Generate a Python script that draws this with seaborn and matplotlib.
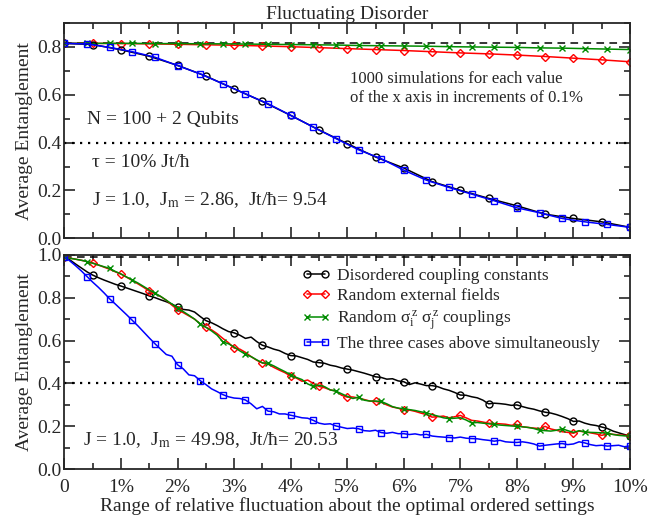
import matplotlib
matplotlib.use('Agg')
import seaborn as sns
import matplotlib.pyplot as plt
from matplotlib.lines import Line2D
from matplotlib.ticker import MultipleLocator
import numpy as np

# --- top panel data (values at marker positions) ---
top_x_half = [0, 0.5, 1, 1.5, 2, 2.5, 3, 3.5, 4, 4.5, 5, 5.5, 6, 6.5, 7, 7.5, 8, 8.5, 9, 9.5, 10]
top_x_four = [0, 0.4, 0.8, 1.2, 1.6, 2.0, 2.4, 2.8, 3.2, 3.6, 4.0, 4.4, 4.8, 5.2, 5.6, 6.0,
              6.4, 6.8, 7.2, 7.6, 8.0, 8.4, 8.8, 9.2, 9.6, 10]
top_black = [0.815, 0.810, 0.788, 0.761, 0.723, 0.678, 0.625, 0.572, 0.514, 0.453, 0.396,
             0.340, 0.294, 0.237, 0.201, 0.167, 0.136, 0.101, 0.083, 0.069, 0.046]
top_red = [0.815, 0.815, 0.814, 0.813, 0.811, 0.809, 0.807, 0.804, 0.801, 0.797, 0.793,
           0.789, 0.785, 0.780, 0.775, 0.771, 0.766, 0.760, 0.753, 0.746, 0.738]
top_green = [0.815, 0.815, 0.815, 0.815, 0.814, 0.814, 0.813, 0.813, 0.812, 0.811, 0.810,
             0.809, 0.808, 0.806, 0.805, 0.804, 0.803, 0.801, 0.800, 0.799, 0.798, 0.796,
             0.795, 0.793, 0.791, 0.789]
top_blue = [0.815, 0.8125, 0.798, 0.780, 0.757, 0.722, 0.6875, 0.646, 0.604, 0.5625, 0.514,
            0.465, 0.417, 0.370, 0.333, 0.285, 0.243, 0.2125, 0.185, 0.157, 0.1275, 0.107,
            0.083, 0.069, 0.058, 0.046]

# --- bottom panel data (every 0.1 %) ---
bot_x = np.linspace(0, 10, 101)
bot_black = [0.99, 0.975, 0.956, 0.938, 0.92, 0.905, 0.893, 0.882, 0.872, 0.862,
             0.854, 0.845, 0.836, 0.827, 0.818, 0.808, 0.800, 0.790, 0.781, 0.770,
             0.756, 0.745, 0.742, 0.733, 0.712, 0.693, 0.683, 0.670, 0.655, 0.642,
             0.636, 0.625, 0.610, 0.616, 0.595, 0.578, 0.570, 0.560, 0.553, 0.540,
             0.530, 0.528, 0.520, 0.512, 0.500, 0.497, 0.494, 0.485, 0.480, 0.472,
             0.467, 0.462, 0.455, 0.448, 0.440, 0.431, 0.428, 0.420, 0.422, 0.412,
             0.408, 0.395, 0.403, 0.397, 0.390, 0.390, 0.385, 0.375, 0.368, 0.358,
             0.346, 0.345, 0.338, 0.333, 0.322, 0.305, 0.308, 0.306, 0.303, 0.298,
             0.300, 0.292, 0.285, 0.280, 0.272, 0.266, 0.262, 0.255, 0.246, 0.236,
             0.223, 0.225, 0.215, 0.208, 0.204, 0.197, 0.190, 0.178, 0.170, 0.162,
             0.155]
bot_red = [0.99, 0.984, 0.979, 0.974, 0.968, 0.962, 0.952, 0.942, 0.932, 0.920,
           0.910, 0.895, 0.880, 0.864, 0.848, 0.830, 0.818, 0.805, 0.788, 0.765,
           0.744, 0.730, 0.715, 0.700, 0.678, 0.662, 0.650, 0.632, 0.610, 0.590,
           0.565, 0.560, 0.545, 0.525, 0.508, 0.495, 0.490, 0.475, 0.462, 0.450,
           0.434, 0.425, 0.410, 0.416, 0.400, 0.386, 0.380, 0.370, 0.365, 0.345,
           0.336, 0.337, 0.332, 0.325, 0.318, 0.316, 0.312, 0.300, 0.290, 0.285,
           0.274, 0.276, 0.270, 0.262, 0.255, 0.243, 0.245, 0.248, 0.240, 0.245,
           0.251, 0.240, 0.228, 0.225, 0.220, 0.215, 0.213, 0.212, 0.210, 0.205,
           0.209, 0.198, 0.195, 0.192, 0.190, 0.200, 0.188, 0.182, 0.175, 0.172,
           0.168, 0.178, 0.174, 0.170, 0.165, 0.158, 0.165, 0.163, 0.160, 0.158,
           0.158]
bot_green = [0.99, 0.983, 0.979, 0.974, 0.968, 0.960, 0.952, 0.944, 0.936, 0.922,
             0.910, 0.896, 0.882, 0.868, 0.852, 0.836, 0.821, 0.806, 0.788, 0.770,
             0.751, 0.735, 0.718, 0.700, 0.677, 0.662, 0.645, 0.625, 0.594, 0.585,
             0.570, 0.552, 0.536, 0.525, 0.510, 0.496, 0.494, 0.482, 0.468, 0.455,
             0.440, 0.428, 0.418, 0.398, 0.386, 0.392, 0.385, 0.370, 0.364, 0.352,
             0.340, 0.330, 0.336, 0.322, 0.318, 0.318, 0.316, 0.305, 0.292, 0.285,
             0.282, 0.278, 0.274, 0.268, 0.263, 0.255, 0.248, 0.240, 0.236, 0.238,
             0.240, 0.230, 0.216, 0.218, 0.215, 0.212, 0.209, 0.206, 0.204, 0.202,
             0.200, 0.198, 0.195, 0.190, 0.182, 0.180, 0.178, 0.182, 0.189, 0.180,
             0.172, 0.180, 0.174, 0.172, 0.171, 0.170, 0.169, 0.162, 0.158, 0.156,
             0.154]
bot_blue = [0.99, 0.970, 0.948, 0.924, 0.898, 0.872, 0.848, 0.822, 0.794, 0.770,
            0.745, 0.720, 0.694, 0.668, 0.640, 0.612, 0.585, 0.560, 0.535, 0.527,
            0.487, 0.468, 0.440, 0.436, 0.413, 0.395, 0.375, 0.362, 0.348, 0.338,
            0.332, 0.330, 0.323, 0.305, 0.282, 0.293, 0.271, 0.268, 0.258, 0.258,
            0.252, 0.246, 0.240, 0.238, 0.228, 0.215, 0.210, 0.212, 0.202, 0.196,
            0.190, 0.192, 0.189, 0.180, 0.178, 0.182, 0.171, 0.168, 0.172, 0.166,
            0.166, 0.162, 0.165, 0.160, 0.163, 0.155, 0.152, 0.150, 0.148, 0.146,
            0.150, 0.145, 0.143, 0.142, 0.138, 0.135, 0.131, 0.135, 0.128, 0.126,
            0.125, 0.128, 0.124, 0.118, 0.108, 0.112, 0.115, 0.118, 0.120, 0.115,
            0.118, 0.128, 0.123, 0.115, 0.110, 0.112, 0.108, 0.110, 0.112, 0.105,
            0.109]

labels = ['Disordered coupling constants', 'Random external fields',
          r'Random $\mathregular{σ_i^{\,z}\ σ_j^{\,z}}$ couplings',
          'The three cases above simultaneously']
colors = ['black', '#ff0000', '#008b00', '#0000ff']
markers = ['o', 'D', 'x', 's']
msizes = [5, 4, 4, 4.6]
xticklabels = ['0', '1%', '2%', '3%', '4%', '5%', '6%', '7%', '8%', '9%', '10%']

sns.set_style('ticks')
plt.rcParams['font.family'] = ['Liberation Serif', 'DejaVu Serif']
plt.rcParams['mathtext.fontset'] = 'stix'
plt.rcParams['font.size'] = 14

fig = plt.figure(figsize=(6.5, 5.17), dpi=100)
ax1 = fig.add_axes([0.0992, 0.539, 0.870, 0.4165])
ax2 = fig.add_axes([0.0992, 0.0923, 0.870, 0.415])


def draw(ax, x, y, i, every):
    sns.lineplot(x=x, y=y, ax=ax, color=colors[i], lw=1.1, errorbar=None,
                 marker=markers[i], markersize=msizes[i], markerfacecolor='none',
                 markeredgecolor=colors[i], markeredgewidth=1.0, markevery=every)


# top panel
ax1.axhline(0.815, color='k', lw=1.1, ls=(0, (5, 3.5)))
ax1.axhline(0.4, color='k', lw=1.6, ls=(0, (1, 2.6)))
draw(ax1, top_x_half, top_red, 1, 1)
draw(ax1, top_x_four, top_green, 2, 1)
draw(ax1, top_x_half, top_black, 0, 1)
draw(ax1, top_x_four, top_blue, 3, 1)

# bottom panel
ax2.axhline(0.99, color='k', lw=1.1, ls=(0, (5, 3.5)))
ax2.axhline(0.4, color='k', lw=1.6, ls=(0, (1, 2.6)))
draw(ax2, bot_x, bot_black, 0, 5)
draw(ax2, bot_x, bot_red, 1, 5)
draw(ax2, bot_x, bot_green, 2, 4)
draw(ax2, bot_x, bot_blue, 3, 4)

for ax, ymax in [(ax1, 0.9), (ax2, 1.0)]:
    ax.set_xlim(0, 10)
    ax.set_ylim(0, ymax)
    ax.xaxis.set_major_locator(MultipleLocator(1))
    ax.xaxis.set_minor_locator(MultipleLocator(0.5))
    ax.yaxis.set_major_locator(MultipleLocator(0.2))
    ax.yaxis.set_minor_locator(MultipleLocator(0.1))
    ax.tick_params(which='both', direction='in', top=True, right=True, width=1.2)
    ax.tick_params(which='major', length=8)
    ax.tick_params(which='minor', length=4.5)
    ax.tick_params(axis='y', pad=2, labelsize=14)
    for s in ax.spines.values():
        s.set_linewidth(1.3)
    ax.set_ylabel('Average Entanglement', fontsize=14, labelpad=3)
    ax.set_xlabel('')

ax1.set_yticks([0.0, 0.2, 0.4, 0.6, 0.8])
ax1.tick_params(axis='x', labelbottom=False)
ax2.set_xticks(range(11))
ax2.set_xticklabels(xticklabels)
ax2.tick_params(axis='x', pad=7, labelsize=14)
ax2.set_xlabel('Range of relative fluctuation about the optimal ordered settings',
               fontsize=14, labelpad=1)

ax1.set_title('Fluctuating Disorder', fontsize=14, pad=2)

ax1.text(0.4, 0.495, 'N = 100 + 2 Qubits', fontsize=14, va='center')
ax1.text(0.48, 0.315, 'τ = 10% Jt/ħ', fontsize=14, va='center')
ax1.text(0.48, 0.16, r'J = 1.0,  J$_{\rm m}$ = 2.86,  Jt/ħ= 9.54', fontsize=14, va='center')
ax1.text(5.05, 0.625, '1000 simulations for each value\nof the x axis in increments of 0.1%',
         fontsize=12, va='center', linespacing=1.25)
ax2.text(0.33, 0.137, r'J = 1.0,  J$_{\rm m}$ = 49.98,  Jt/ħ= 20.53', fontsize=14, va='center')

handles = [Line2D([], [], color=colors[i], lw=1.1, marker=markers[i], markersize=msizes[i],
                  markerfacecolor='none', markeredgecolor=colors[i]) for i in range(4)]
ax2.legend(handles, labels, loc='upper left', bbox_to_anchor=(0.42, 0.94), frameon=False,
           fontsize=12.5, numpoints=2, handlelength=1.6, handletextpad=0.4,
           labelspacing=0.25, borderpad=0, borderaxespad=0)

fig.savefig('out.png', dpi=100)
